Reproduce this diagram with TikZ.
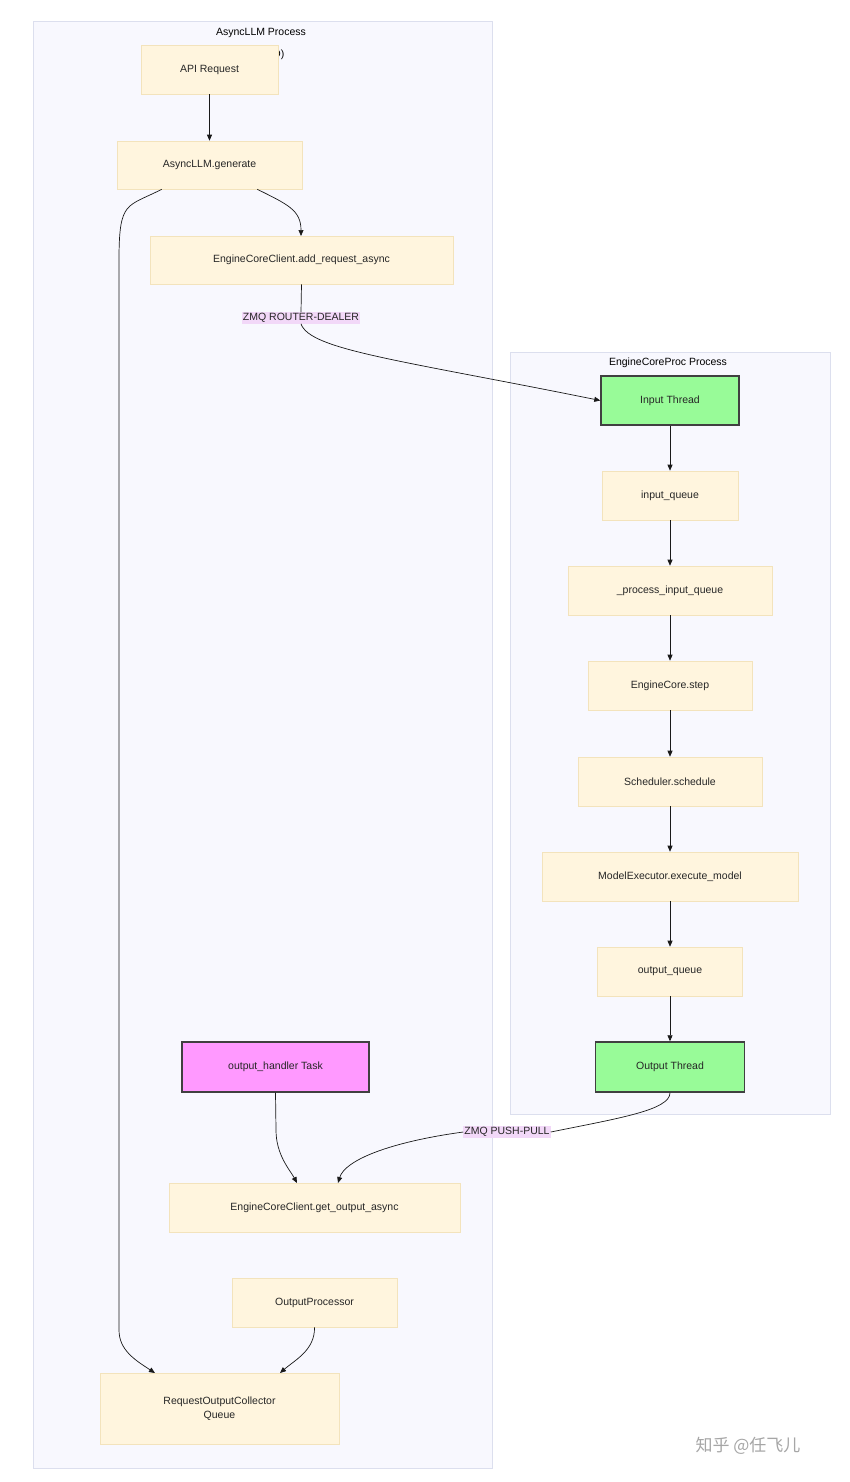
\documentclass[tikz,border=0pt]{standalone}
\usepackage{fontspec}
\setmainfont{Liberation Sans}
\newfontfamily\cjk{Noto Sans CJK SC}
\usetikzlibrary{arrows.meta}
\definecolor{boxfill}{HTML}{FFF5DE}
\definecolor{boxline}{HTML}{F3E3BC}
\definecolor{grpfill}{HTML}{F8F8FE}
\definecolor{grpline}{HTML}{DCDFEE}
\definecolor{lblfill}{HTML}{F2D8F8}
\definecolor{green}{HTML}{98FB98}
\definecolor{pink}{HTML}{FF99FF}
\tikzset{
  x=1pt,y=-1pt,
  grp/.style={draw=grpline,fill=grpfill,line width=0.8pt},
  bx/.style={draw=boxline,fill=boxfill,line width=0.6pt,font=\fontsize{10.5}{14}\selectfont,text=black!85,align=center},
  hl/.style={draw=black!75,line width=1.4pt,font=\fontsize{10.5}{14}\selectfont,text=black!85},
  lbl/.style={fill=lblfill,inner sep=1pt,font=\fontsize{10.5}{13}\selectfont,text=black!85},
  ttl/.style={font=\fontsize{10.5}{13}\selectfont},
  arr/.style={-{Triangle[length=6pt,width=5pt]},line width=0.7pt,black!90},
  ln/.style={line width=0.7pt,black!90}
}
\newcommand{\bxat}[6]{\node[#1,minimum width=#4-#2,minimum height=#5-#3,inner sep=0pt] (#6) at ({(#2+#4)/2},{(#3+#5)/2}) {};}
\begin{document}
\begin{tikzpicture}
\useasboundingbox (0,0) rectangle (850,1482);
\fill[white] (0,0) rectangle (850,1482);
\draw[grp] (33,21) rectangle (492,1468);
\node[ttl] (t1) at (261,33) {AsyncLLM Process};
\node[ttl] (t1b) at (261,55) {(AsyncIO)};
\draw[grp] (510,352) rectangle (830,1114);
\node[ttl] (t2) at (668,363) {EngineCoreProc Process};
\node[bx,minimum width=137,minimum height=49] (api) at (209.5,69.5) {API Request};
\node[bx,minimum width=185,minimum height=48] (gen) at (209.5,165) {AsyncLLM.generate};
\node[bx,minimum width=303,minimum height=48] (add) at (301.5,260) {EngineCoreClient.add\_request\_async};
\node[hl,fill=green,minimum width=138,minimum height=49] (inT) at (670,400.5) {Input Thread};
\node[bx,minimum width=136,minimum height=49] (iq) at (670,495.5) {input\_queue};
\node[bx,minimum width=204,minimum height=49] (piq) at (670,590.5) {\_process\_input\_queue};
\node[bx,minimum width=164,minimum height=49] (ecs) at (670,685.5) {EngineCore.step};
\node[bx,minimum width=184,minimum height=49] (ss) at (670,781.5) {Scheduler.schedule};
\node[bx,minimum width=256,minimum height=49] (me) at (670,876.5) {ModelExecutor.execute\_model};
\node[bx,minimum width=145,minimum height=49] (oq) at (670,971.5) {output\_queue};
\node[hl,fill=green,minimum width=149,minimum height=50] (outT) at (670,1067) {Output Thread};
\node[hl,fill=pink,minimum width=187,minimum height=50] (oh) at (275.5,1067) {output\_handler Task};
\node[bx,minimum width=291,minimum height=49] (get) at (314.5,1207.5) {EngineCoreClient.get\_output\_async};
\node[bx,minimum width=165,minimum height=49] (op) at (314.5,1302.5) {OutputProcessor};
\node[bx,minimum width=239,minimum height=71] (col) at (219.5,1408.5) {RequestOutputCollector\\Queue};
\node[lbl] (z1) at (301,318) {ZMQ ROUTER-DEALER};
\node[lbl] (z2) at (507,1132) {ZMQ PUSH-PULL};
\node[font=\cjk\fontsize{17}{20}\selectfont,text=black!35] (wm) at (748,1446) {知乎 @任飞儿};
% edges
\draw[arr] (api) -- (gen);
\draw[arr] (gen.south west)++(45,0) .. controls +(-35,18) and (119,200) .. (119,260) -- (119,1330) .. controls (119,1350) and (135,1360) .. (155,1373);
\draw[arr] ([xshift=-45]gen.south east) .. controls +(30,15) and (301,210) .. (301,236);
\draw[ln] (add.south) -- (z1.north);
\draw[arr] (z1.south) .. controls (310,350) and (400,360) .. (inT.west);
\draw[arr] (inT) -- (iq);
\draw[arr] (iq) -- (piq);
\draw[arr] (piq) -- (ecs);
\draw[arr] (ecs) -- (ss);
\draw[arr] (ss) -- (me);
\draw[arr] (me) -- (oq);
\draw[arr] (oq) -- (outT);
\draw[ln] (outT.south) .. controls (670,1110) and (620,1118) .. (z2.east);
\draw[arr] (z2.west) .. controls (390,1142) and (345,1160) .. (338,1183);
\draw[arr] (oh.south) -- (276,1130) .. controls (276,1155) and (290,1170) .. (297,1183);
\draw[arr] (op.south) .. controls (315,1350) and (295,1360) .. (280,1373);
\end{tikzpicture}
\end{document}
